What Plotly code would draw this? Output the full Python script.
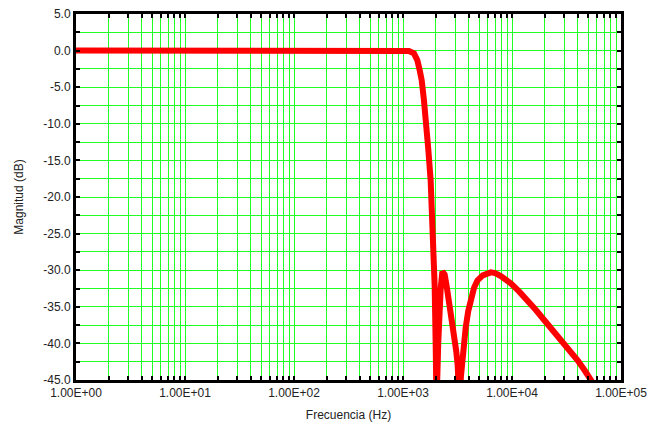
import plotly.graph_objects as go

# Magnitude response of the low-pass filter (frequency in Hz, magnitude in dB)
freq_hz = [1, 10, 100, 500, 1000, 1100, 1133, 1259, 1352, 1421, 1483, 1556, 1637,
           1709, 1793, 1832, 1891, 1951, 1994, 2028, 2060, 2105, 2147, 2217, 2297,
           2411, 2515, 2641, 2797, 2936, 3076, 3175, 3290, 3400, 3480, 3606, 3762,
           3964, 4177, 4485, 4818, 5391, 6387, 7000, 7889, 8800, 9746, 11600, 13880,
           16500, 19720, 23500, 28100, 33500, 39990, 46000, 52970, 61500]
mag_db = [0.0, 0.0, 0.0, 0.0, 0.0, 0.0, -0.05, -0.37, -1.3, -2.65, -4.0, -6.75, -9.9,
          -13.6, -17.7, -20.5, -25.0, -32.0, -40.0, -48.0, -45.0, -40.0, -36.5, -32.5, -30.2,
          -30.6, -32.2, -34.1, -36.5, -38.6, -41.0, -43.0, -48.0, -44.5, -42.5, -40.0, -37.8,
          -35.6, -34.0, -32.4, -31.4, -30.7, -30.3, -30.4, -30.8, -31.3, -31.8, -32.9, -34.1,
          -35.4, -36.8, -38.1, -39.5, -40.9, -42.3, -43.6, -45.0, -46.5]

x_tick_vals = [1, 10, 100, 1000, 10000, 100000]
x_tick_text = ["1.00E+00", "1.00E+01", "1.00E+02", "1.00E+03", "1.00E+04", "1.00E+05"]
y_tick_vals = [5, 0, -5, -10, -15, -20, -25, -30, -35, -40, -45]
y_tick_text = ["5.0", "0.0", "-5.0", "-10.0", "-15.0", "-20.0", "-25.0", "-30.0",
               "-35.0", "-40.0", "-45.0"]

fig = go.Figure()
fig.add_trace(go.Scatter(
    x=freq_hz, y=mag_db, mode="lines",
    line=dict(color="#ff0000", width=6),
    showlegend=False,
))

grid_color = "#22ff22"
font_family = "Liberation Sans, Arial, sans-serif"
tick_style = dict(ticks="inside", ticklen=4, tickwidth=2, tickcolor="black")

fig.update_layout(
    width=649, height=424,
    margin=dict(l=76, r=28, t=14, b=44),
    paper_bgcolor="white", plot_bgcolor="white",
    font=dict(family=font_family, size=12, color="#222222"),
    xaxis=dict(
        type="log", range=[0, 5], automargin=False,
        tickvals=x_tick_vals, ticktext=x_tick_text,
        showgrid=True, gridcolor=grid_color, gridwidth=1,
        minor=dict(dtick="D1", showgrid=True, gridcolor=grid_color, gridwidth=1,
                   **tick_style),
        showline=True, linecolor="black", linewidth=3, mirror="ticks",
        zeroline=False,
        title=dict(text="Frecuencia (Hz)", standoff=12, font=dict(size=12)),
        tickfont=dict(size=12),
        **tick_style,
    ),
    yaxis=dict(
        range=[-45, 5], automargin=False,
        tickvals=y_tick_vals, ticktext=y_tick_text,
        showgrid=True, gridcolor=grid_color, gridwidth=1,
        minor=dict(dtick=2.5, showgrid=True, gridcolor=grid_color, gridwidth=1,
                   **tick_style),
        showline=True, linecolor="black", linewidth=3, mirror="ticks",
        zeroline=False,
        title=dict(text="Magnitud (dB)", standoff=18, font=dict(size=12)),
        tickfont=dict(size=12),
        **tick_style,
    ),
)

fig.write_html("out.html")
